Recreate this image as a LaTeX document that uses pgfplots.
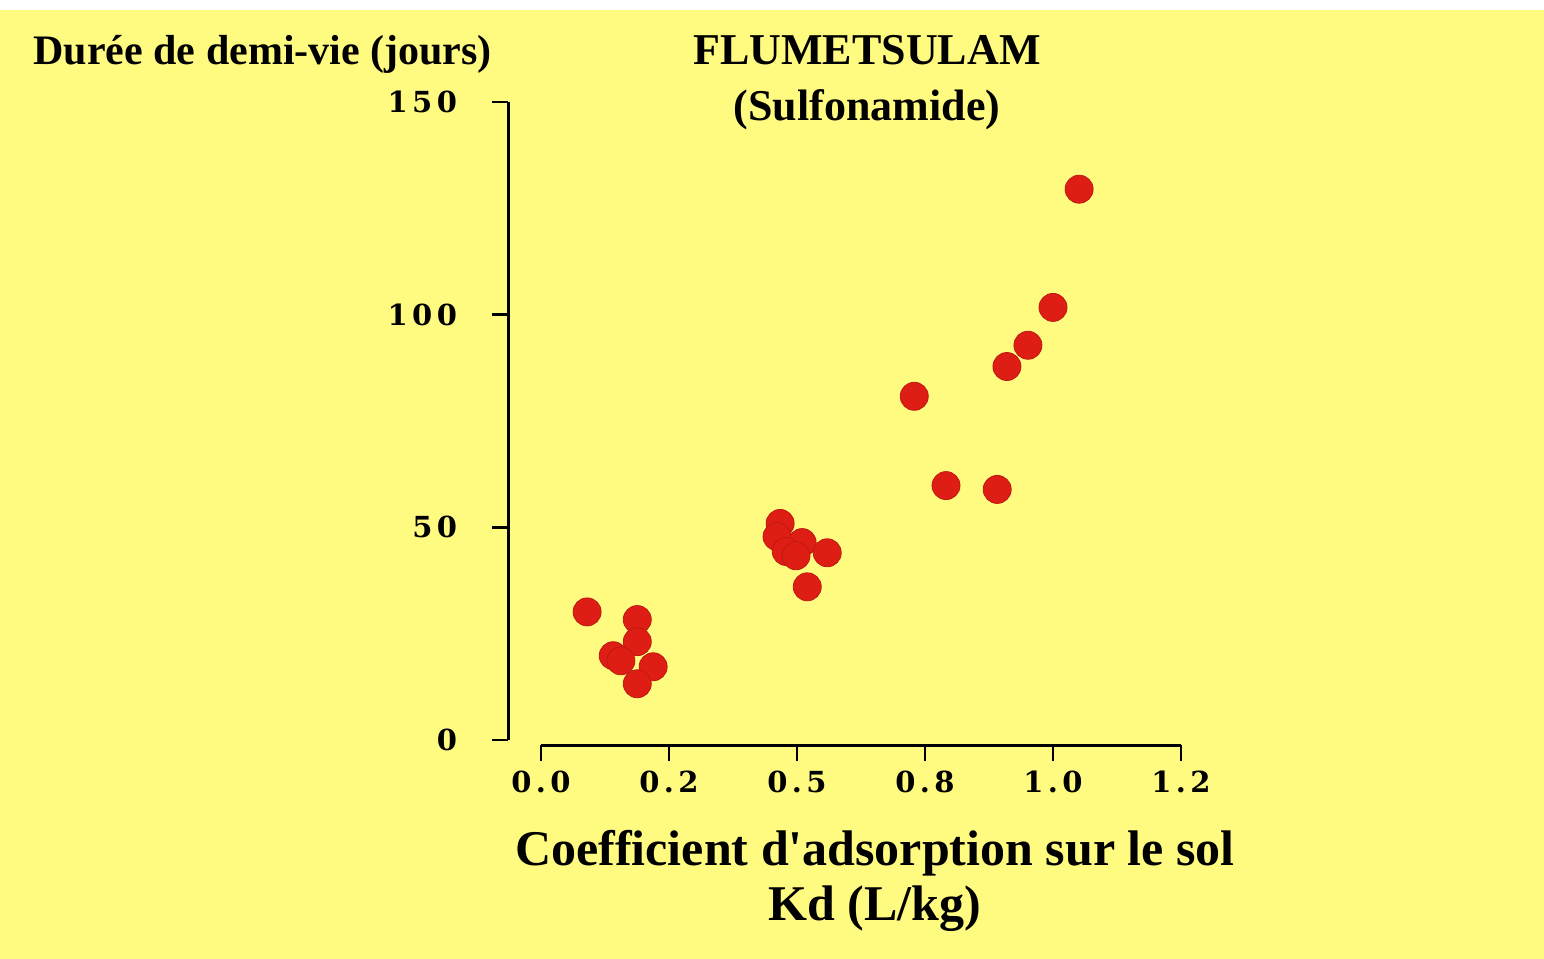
\documentclass[border=0pt]{standalone}
\usepackage{pgfplots}
\pgfplotsset{compat=1.18}
\usepackage{fontspec}
\setmainfont{Liberation Serif}
\newfontfamily\tickfont[LetterSpace=15]{DejaVu Serif}
\definecolor{bgyellow}{RGB}{255,250,128}
\definecolor{dotred}{RGB}{222,30,20}

\begin{document}
\begin{tikzpicture}
% page: 1544 x 959 px, 1 px = 0.5bp
\fill[bgyellow] (0,0) rectangle (772bp,-479.5bp);
\fill[white] (0,0) rectangle (772bp,-5bp);

\begin{axis}[
  scale only axis,
  width=336.5bp, height=321.5bp,
  at={(254bp,-372.5bp)}, anchor=south west,
  xmin=-0.0645, xmax=1.25,
  ymin=-1.2, ymax=150,
  clip=false,
  axis line style={draw=none},
  xtick={0,0.25,0.5,0.75,1,1.25},
  xticklabels={0.0,0.2,0.5,0.8,1.0,1.2},
  ytick={0,50,100,150},
  xtick pos=bottom, ytick pos=left,
  tick align=outside,
  major tick length=8bp,
  tick style={black, line width=1.3bp},
  /pgf/number format/assume math mode=true,
  ticklabel style={font=\tickfont\bfseries\fontsize{14.5bp}{15bp}\selectfont},
  yticklabel style={xshift=-14bp},
  xticklabel style={yshift=-1.5bp},
]
\draw[line width=1.5bp] (axis cs:-0.0645,0) -- (axis cs:-0.0645,150);
\draw[line width=1.5bp] (axis cs:0,-1.2) -- (axis cs:1.25,-1.2);

\addplot[only marks, mark=*, mark size=7bp,
  mark options={fill=dotred, draw=dotred!85!black, line width=0.4bp}]
  coordinates {
  (0.090,30.1) (0.188,28.3) (0.188,23.1) (0.141,19.8) (0.156,18.6)
  (0.219,17.2) (0.188,13.2)
  (0.467,50.9) (0.461,47.8) (0.510,46.4) (0.479,44.3) (0.498,43.3)
  (0.559,44.0) (0.520,36.0)
  (0.729,80.8) (0.791,59.8) (0.891,58.9) (0.910,87.8) (0.951,92.8)
  (1.000,101.7) (1.051,129.5)
};
\end{axis}

\node[anchor=base west, inner sep=0, font=\bfseries\fontsize{21bp}{24bp}\selectfont]
  at (16.5bp,-32bp) {Durée de demi-vie (jours)};
\node[anchor=base, inner sep=0, font=\bfseries\fontsize{22bp}{24bp}\selectfont]
  at (433.5bp,-32bp) {FLUMETSULAM};
\node[anchor=base, inner sep=0, font=\bfseries\fontsize{22bp}{24bp}\selectfont]
  at (433.5bp,-60bp) {(Sulfonamide)};
\node[anchor=base, inner sep=0, font=\bfseries\fontsize{25bp}{28bp}\selectfont]
  at (437.5bp,-432.5bp) {Coefficient d\textquotesingle adsorption sur le sol};
\node[anchor=base, inner sep=0, font=\bfseries\fontsize{25bp}{28bp}\selectfont]
  at (437.5bp,-460bp) {Kd (L/kg)};
\end{tikzpicture}
\end{document}
